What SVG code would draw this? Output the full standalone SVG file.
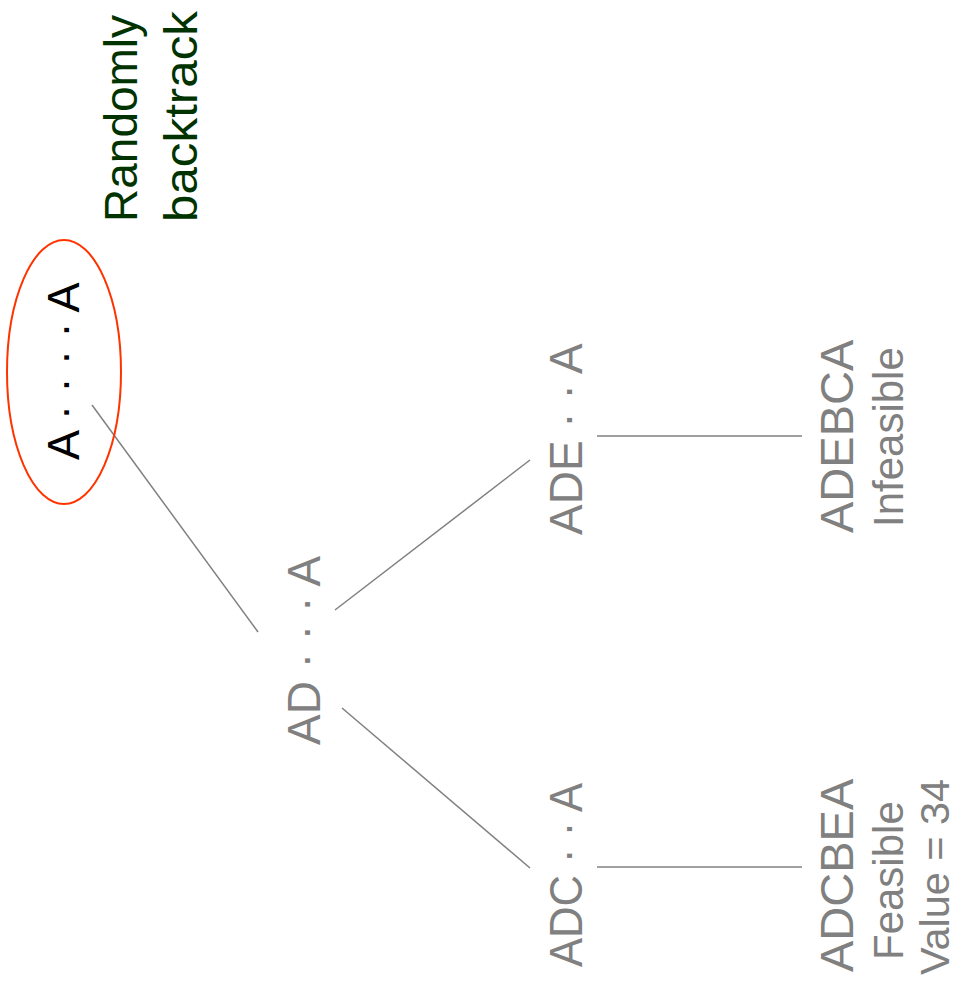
<svg xmlns="http://www.w3.org/2000/svg" width="958" height="983" viewBox="0 0 958 983">
  <style>
    text { font-family: "Liberation Sans", Arial, sans-serif; }
    .node { fill: #808080; font-size: 46px; }
    .leaf { fill: #808080; font-size: 47px; }
    .note { fill: #808080; font-size: 42px; }
    .root { fill: #000000; font-size: 45px; }
    .hint { fill: #003300; font-size: 46px; }
    .edge { stroke: #808080; stroke-width: 1.5; fill: none; }
  </style>
  <rect width="958" height="983" fill="#ffffff"/>

  <!-- tree edges -->
  <g id="connectors">
    <line class="edge" x1="92" y1="405" x2="258" y2="632"/>
    <line class="edge" x1="335" y1="610" x2="530" y2="460"/>
    <line class="edge" x1="342" y1="708" x2="530" y2="868"/>
    <line class="edge" x1="597" y1="436" x2="802" y2="436"/>
    <line class="edge" x1="597" y1="867" x2="802" y2="867"/>
  </g>

  <g id="hint">
    <text class="hint" transform="translate(137,222) rotate(-90)">Randomly</text>
    <text class="hint" transform="translate(197,222) rotate(-90)" textLength="211" lengthAdjust="spacingAndGlyphs">backtrack</text>
  </g>

  <g id="root">
    <ellipse cx="64" cy="372" rx="57" ry="132" fill="none" stroke="#ff3300" stroke-width="2"/>
    <text class="root" transform="translate(79,460) rotate(-90)">A · · · · A</text>
  </g>

  <g id="node-ad">
    <text class="node" transform="translate(320,745) rotate(-90)">AD · · · A</text>
  </g>

  <g id="node-ade">
    <text class="node" transform="translate(582,535) rotate(-90)">ADE · · A</text>
  </g>

  <g id="node-adc">
    <text class="node" transform="translate(582,967) rotate(-90)" textLength="184" lengthAdjust="spacingAndGlyphs">ADC · · A</text>
  </g>

  <g id="leaf-adebca">
    <text class="leaf" transform="translate(853,533) rotate(-90)">ADEBCA</text>
    <text class="note" transform="translate(903,527) rotate(-90)">Infeasible</text>
  </g>

  <g id="leaf-adcbea">
    <text class="leaf" transform="translate(853,972) rotate(-90)">ADCBEA</text>
    <text class="note" transform="translate(903,960) rotate(-90)">Feasible</text>
    <text class="note" transform="translate(949,975) rotate(-90)" style="font-size:41px" textLength="196" lengthAdjust="spacingAndGlyphs">Value = 34</text>
  </g>
</svg>
